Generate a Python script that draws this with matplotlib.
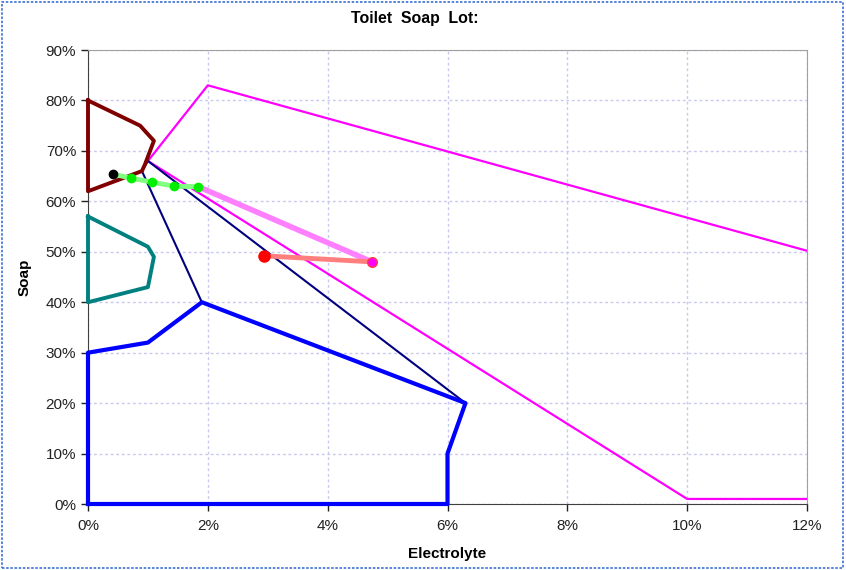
import matplotlib.pyplot as plt
from matplotlib.patches import Rectangle
from matplotlib.ticker import FuncFormatter

plt.rcParams['font.family'] = ['Liberation Sans', 'DejaVu Sans']

# polygon outlines (electrolyte %, soap %)
magenta_x = [12.0, 10.0, 1.0, 2.0, 12.0]
magenta_y = [1.0, 1.0, 68.0, 83.0, 50.2]

navy_x = [1.9, 0.9, 1.0, 6.3]
navy_y = [40.0, 66.0, 68.0, 20.0]

blue_x = [0.0, 0.0, 1.0, 1.9, 6.3, 6.0, 6.0, 0.0]
blue_y = [0.0, 30.0, 32.0, 40.0, 20.0, 10.0, 0.0, 0.0]

maroon_x = [0.0, 0.87, 1.1, 0.95, 0.9, 0.0, 0.0]
maroon_y = [80.0, 75.0, 72.0, 67.3, 66.0, 62.0, 80.0]

teal_x = [0.0, 1.0, 1.1, 1.0, 0.0, 0.0]
teal_y = [57.0, 51.0, 49.0, 43.0, 40.0, 57.0]

# lot trajectory
green_x = [0.45, 0.72, 1.07, 1.44, 1.84]
green_y = [65.3, 64.6, 63.8, 63.0, 62.9]
black_x, black_y = [0.41], [65.5]
pink_x = [1.84, 4.74]
pink_y = [62.9, 48.0]
red_x = [2.94, 4.74]
red_y = [49.2, 48.0]

fig = plt.figure(figsize=(8.46, 5.70), dpi=100)
ax = fig.add_axes([88/846, 66/570, 719/846, 454/570])

ax.plot(magenta_x, magenta_y, color='#FF00FF', lw=1.6, zorder=3)
ax.plot(navy_x, navy_y, color='#000080', lw=1.5, zorder=4)
ax.plot(blue_x, blue_y, color='#0000FF', lw=3, zorder=4, clip_on=False)
ax.plot(maroon_x, maroon_y, color='#800000', lw=2.8, zorder=4, clip_on=False)
ax.plot(teal_x, teal_y, color='#008080', lw=2.8, zorder=4, clip_on=False)

ax.plot(pink_x, pink_y, color='#FF80FF', lw=4, zorder=5, solid_capstyle='round')
ax.plot(red_x, red_y, color='#FF7F7F', lw=3.5, zorder=5)
ax.plot(red_x[:1], red_y[:1], 'o', color='#FF0000', ms=8, zorder=7)
ax.plot(pink_x[1:], pink_y[1:], 'o', color='#FF00FF', mec='#FF4040', ms=7, zorder=7)
ax.plot(green_x, green_y, color='#80FF80', lw=3.5, zorder=6)
ax.plot(green_x[1:], green_y[1:], 'o', color='#00EE00', ms=6, zorder=7)
ax.plot(black_x, black_y, 'o', color='black', ms=6, zorder=7)

ax.set_xlim(0, 12)
ax.set_ylim(0, 90)
ax.set_xticks(range(0, 13, 2))
ax.set_yticks(range(0, 91, 10))
ax.xaxis.set_major_formatter(FuncFormatter(lambda v, p: '%d%%' % v))
ax.yaxis.set_major_formatter(FuncFormatter(lambda v, p: '%d%%' % v))
ax.tick_params(labelsize=11, colors='#222222', direction='out', length=5, width=1)
ax.tick_params(axis='x', pad=6)
ax.grid(True, color='#C8C8F0', ls=(0, (2, 2)), lw=1)
ax.set_axisbelow(True)

for s in ['top', 'right']:
    ax.spines[s].set_color('#A0A0A0')
    ax.spines[s].set_linestyle((0, (2, 1)))
for s in ['left', 'bottom']:
    ax.spines[s].set_color('#404040')

ax.set_xlabel('Electrolyte', fontsize=11, fontweight='bold', labelpad=10)
ax.set_ylabel('Soap', fontsize=11, fontweight='bold', labelpad=10)
fig.text(415/846, 1 - 18/570, 'Toilet  Soap  Lot:', ha='center', va='center',
         fontsize=11.4, fontweight='bold')

fig.patches.append(Rectangle((0.002, 0.003), 0.995, 0.994, transform=fig.transFigure,
                             fill=False, ec='#3A70D0', lw=1.2, ls=(0, (1.5, 1))))

fig.savefig('out.png', dpi=100)
